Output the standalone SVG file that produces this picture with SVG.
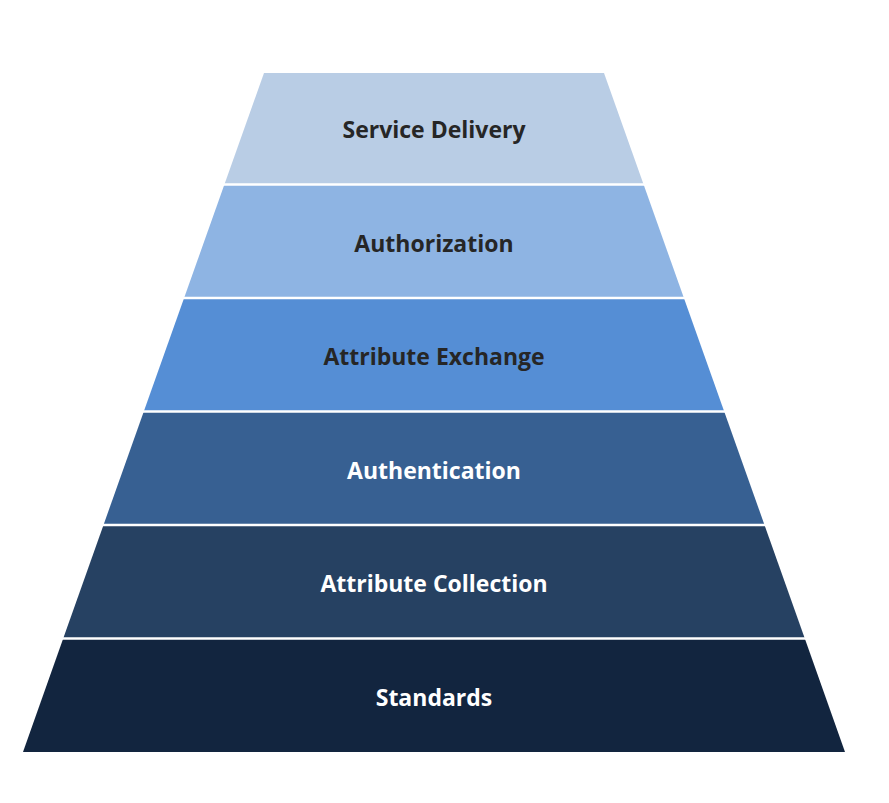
<svg xmlns="http://www.w3.org/2000/svg" width="889" height="803" viewBox="0 0 889 803">
<style>
.lbl{font-family:"Open Sans","Liberation Sans",Arial,sans-serif;font-weight:bold;font-size:23px;text-anchor:middle}
.dk{fill:#262626}
.lt{fill:#FFFFFF}
.sep{stroke:#FFFFFF;stroke-width:2.5}
</style>
<rect width="889" height="803" fill="#FFFFFF"/>
<g id="band-service-delivery">
<polygon points="264,73 604,73 643.6,184.5 224.4,184.5" fill="#B9CDE5"/>
<text class="lbl dk" x="434" y="138">Service Delivery</text>
</g>
<g id="band-authorization">
<polygon points="224.4,184.5 643.6,184.5 683.9,298 184.1,298" fill="#8EB4E3"/>
<text class="lbl dk" x="434" y="252">Authorization</text>
</g>
<g id="band-attribute-exchange">
<polygon points="184.1,298 683.9,298 724.2,411.5 143.8,411.5" fill="#558ED5"/>
<text class="lbl dk" x="434" y="365">Attribute Exchange</text>
</g>
<g id="band-authentication">
<polygon points="143.8,411.5 724.2,411.5 764.5,525 103.5,525" fill="#376092"/>
<text class="lbl lt" x="434" y="479">Authentication</text>
</g>
<g id="band-attribute-collection">
<polygon points="103.5,525 764.5,525 804.8,638.5 63.2,638.5" fill="#264162"/>
<text class="lbl lt" x="434" y="592">Attribute Collection</text>
</g>
<g id="band-standards">
<polygon points="63.2,638.5 804.8,638.5 845,752 23,752" fill="#12253F"/>
<text class="lbl lt" x="434" y="706">Standards</text>
</g>
<g id="separators">
<line class="sep" x1="220" y1="184.5" x2="648" y2="184.5"/>
<line class="sep" x1="180" y1="298" x2="688" y2="298"/>
<line class="sep" x1="139" y1="411.5" x2="729" y2="411.5"/>
<line class="sep" x1="99" y1="525" x2="769" y2="525"/>
<line class="sep" x1="58" y1="638.5" x2="810" y2="638.5"/>
</g>
</svg>
